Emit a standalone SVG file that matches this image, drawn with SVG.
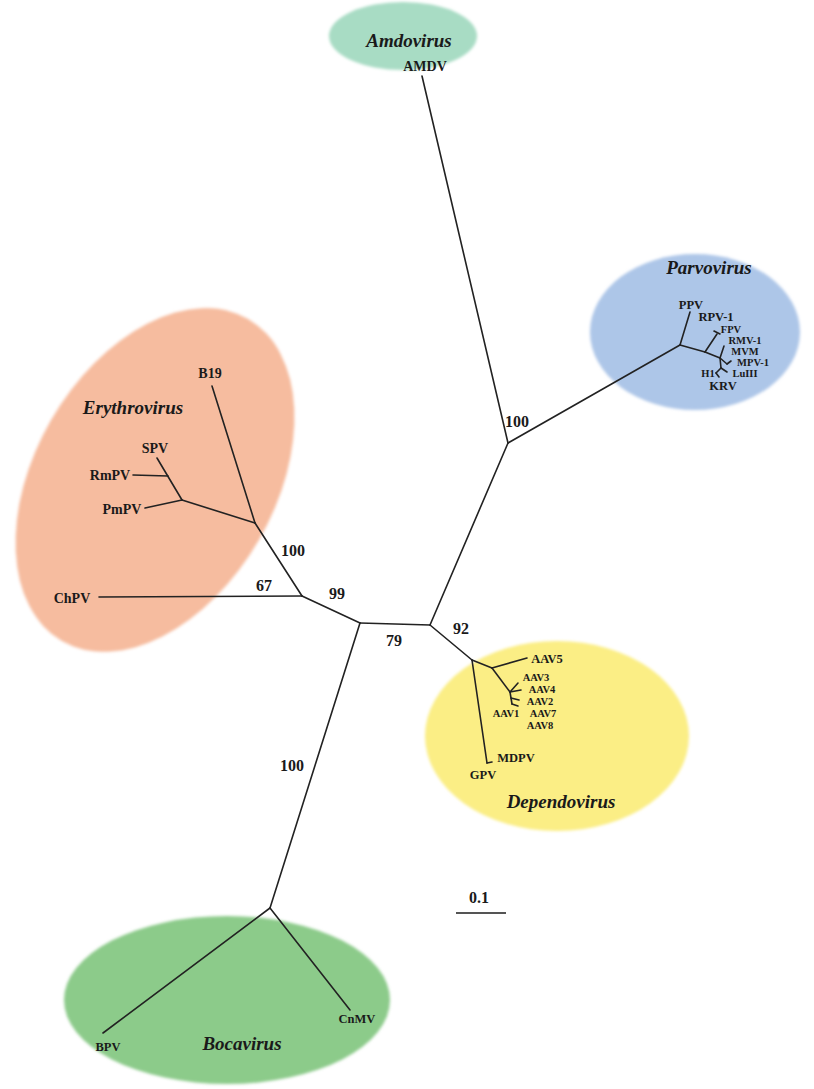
<svg xmlns="http://www.w3.org/2000/svg" width="814" height="1089" viewBox="0 0 814 1089">
<defs>
<filter id="soft" x="-10%" y="-10%" width="120%" height="120%"><feGaussianBlur stdDeviation="1.5"/></filter>
</defs>
<style>
.edge{stroke:#222;stroke-width:1.6;fill:none;stroke-linecap:round}
.leaf{font-family:"Liberation Serif",serif;font-weight:bold;font-size:14px;fill:#1a1a1a;text-anchor:middle}
.sm{font-size:12.5px}
.xs{font-size:10.5px}
.clade{font-family:"Liberation Serif",serif;font-weight:bold;font-style:italic;font-size:19px;fill:#1a1a1a;text-anchor:middle}
.boot{font-family:"Liberation Serif",serif;font-weight:bold;font-size:16px;fill:#1a1a1a;text-anchor:middle}
</style>
<rect width="814" height="1089" fill="#ffffff"/>

<g id="amdovirus">
<ellipse cx="403" cy="36" rx="74" ry="34" fill="#a8dcc4" filter="url(#soft)"/>
<text class="clade" x="409" y="47">Amdovirus</text>
</g>
<g id="parvovirus">
<ellipse cx="695" cy="332" rx="105" ry="78" fill="#adc6e8" filter="url(#soft)"/>
<text class="clade" x="709" y="274">Parvovirus</text>
</g>
<g id="erythrovirus">
<ellipse cx="155" cy="480" rx="120" ry="186" transform="rotate(30 155 480)" fill="#f6bc9f" filter="url(#soft)"/>
<text class="clade" x="133" y="414">Erythrovirus</text>
</g>
<g id="dependovirus">
<ellipse cx="557" cy="736" rx="132" ry="95" fill="#fbee85" filter="url(#soft)"/>
<text class="clade" x="561" y="808">Dependovirus</text>
</g>
<g id="bocavirus">
<ellipse cx="227" cy="1000" rx="163" ry="84" fill="#8ccb8a" filter="url(#soft)"/>
<text class="clade" x="242" y="1050">Bocavirus</text>
</g>

<g id="connectors">
<line class="edge" x1="422" y1="76" x2="508" y2="443"/>
<line class="edge" x1="508" y1="443" x2="680" y2="345"/>
<line class="edge" x1="508" y1="443" x2="430" y2="625"/>
<line class="edge" x1="430" y1="625" x2="360" y2="623"/>
<line class="edge" x1="430" y1="625" x2="472" y2="660"/>
<line class="edge" x1="360" y1="623" x2="302" y2="596"/>
<line class="edge" x1="360" y1="623" x2="270" y2="908"/>
<line class="edge" x1="270" y1="908" x2="103" y2="1033"/>
<line class="edge" x1="270" y1="908" x2="350" y2="1010"/>
<line class="edge" x1="302" y1="596" x2="99" y2="597"/>
<line class="edge" x1="302" y1="596" x2="255" y2="523"/>
<line class="edge" x1="255" y1="523" x2="212" y2="386"/>
<line class="edge" x1="255" y1="523" x2="182" y2="500"/>
<line class="edge" x1="182" y1="500" x2="145" y2="508"/>
<line class="edge" x1="182" y1="500" x2="157" y2="458"/>
<line class="edge" x1="168" y1="476" x2="133" y2="475"/>
<!-- Parvovirus subtree -->
<line class="edge" x1="680" y1="345" x2="690" y2="312"/>
<line class="edge" x1="680" y1="345" x2="705" y2="352"/>
<line class="edge" x1="705" y1="352" x2="717" y2="334"/>
<line class="edge" x1="714" y1="331" x2="720" y2="334"/>
<line class="edge" x1="705" y1="352" x2="720" y2="358"/>
<line class="edge" x1="720" y1="358" x2="724" y2="346"/>
<line class="edge" x1="720" y1="358" x2="727" y2="364"/>
<line class="edge" x1="727" y1="364" x2="731" y2="361"/>
<line class="edge" x1="720" y1="358" x2="721" y2="368"/>
<line class="edge" x1="721" y1="368" x2="716" y2="373"/>
<line class="edge" x1="721" y1="368" x2="727" y2="372"/>
<line class="edge" x1="716" y1="373" x2="719" y2="377"/>
<!-- Dependovirus subtree -->
<line class="edge" x1="472" y1="660" x2="487" y2="763"/>
<line class="edge" x1="487" y1="763" x2="492" y2="762"/>
<line class="edge" x1="472" y1="660" x2="492" y2="668"/>
<line class="edge" x1="492" y1="668" x2="527" y2="658"/>
<line class="edge" x1="492" y1="668" x2="510" y2="692"/>
<line class="edge" x1="510" y1="692" x2="518" y2="683"/>
<line class="edge" x1="510" y1="692" x2="521" y2="690"/>
<line class="edge" x1="510" y1="692" x2="512" y2="704"/>
<line class="edge" x1="511" y1="698" x2="519" y2="700"/>
<line class="edge" x1="512" y1="704" x2="518" y2="706"/>
</g>

<g id="leaves">
<text id="AMDV" class="leaf" x="425" y="71">AMDV</text>
<text id="PPV" class="leaf sm" x="691" y="309">PPV</text>
<text id="RPV-1" class="leaf sm" x="716" y="321">RPV-1</text>
<text id="FPV" class="leaf xs" x="731" y="333">FPV</text>
<text id="RMV-1" class="leaf xs" x="745" y="344">RMV-1</text>
<text id="MVM" class="leaf xs" x="745" y="355">MVM</text>
<text id="MPV-1" class="leaf xs" x="753" y="366">MPV-1</text>
<text id="LuIII" class="leaf xs" x="745" y="377">LuIII</text>
<text id="H1" class="leaf xs" x="708" y="377">H1</text>
<text id="KRV" class="leaf sm" x="723" y="390">KRV</text>
<text id="B19" class="leaf" x="210" y="378">B19</text>
<text id="SPV" class="leaf" x="155" y="453">SPV</text>
<text id="RmPV" class="leaf" x="110" y="480">RmPV</text>
<text id="PmPV" class="leaf" x="122" y="514">PmPV</text>
<text id="ChPV" class="leaf" x="72" y="603">ChPV</text>
<text id="AAV5" class="leaf sm" x="547" y="663">AAV5</text>
<text id="AAV3" class="leaf xs" x="536" y="681">AAV3</text>
<text id="AAV4" class="leaf xs" x="542" y="693">AAV4</text>
<text id="AAV2" class="leaf xs" x="540" y="705">AAV2</text>
<text id="AAV1" class="leaf xs" x="506" y="717">AAV1</text>
<text id="AAV7" class="leaf xs" x="543" y="717">AAV7</text>
<text id="AAV8" class="leaf xs" x="540" y="729">AAV8</text>
<text id="MDPV" class="leaf sm" x="516" y="762">MDPV</text>
<text id="GPV" class="leaf sm" x="483" y="779">GPV</text>
<text id="BPV" class="leaf sm" x="108" y="1051">BPV</text>
<text id="CnMV" class="leaf sm" x="357" y="1023">CnMV</text>
</g>

<g id="bootstrap">
<text class="boot" x="517" y="427">100</text>
<text class="boot" x="293" y="556">100</text>
<text class="boot" x="264" y="591">67</text>
<text class="boot" x="337" y="599">99</text>
<text class="boot" x="394" y="646">79</text>
<text class="boot" x="461" y="634">92</text>
<text class="boot" x="292" y="771">100</text>
</g>

<g id="scale">
<text class="boot" x="479" y="903" font-size="15">0.1</text>
<line x1="456" y1="913" x2="506" y2="913" stroke="#555" stroke-width="2"/>
</g>
</svg>
